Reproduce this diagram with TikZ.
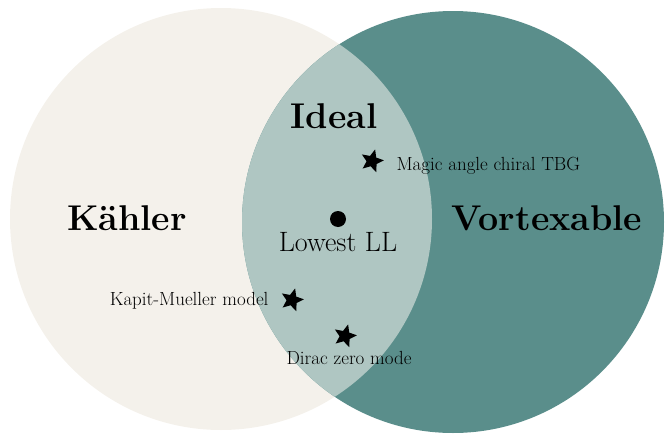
\documentclass[tikz,border=0pt]{standalone}
\usetikzlibrary{shapes.geometric}
\definecolor{beige}{HTML}{F4F1EB}
\definecolor{teal}{HTML}{5A8E8B}
\definecolor{overlap}{HTML}{AFC6C2}
\begin{document}
\begin{tikzpicture}[x=1pt,y=-1pt,
  bigtxt/.style={font=\fontsize{35.8}{38}\selectfont\bfseries},
  midtxt/.style={font=\fontsize{28}{31}\selectfont},
  smalltxt/.style={font=\fontsize{19}{22}\selectfont},
  starmark/.style={star, star points=5, star point ratio=2.2, fill=black, inner sep=0pt, minimum size=24pt}]
\useasboundingbox (0,0) rectangle (670,434);
\fill[beige] (221,219) circle (211);
\fill[teal] (453,222) circle (211);
\begin{scope}
  \clip (221,219) circle (211);
  \fill[overlap] (453,222) circle (211);
\end{scope}
\node[bigtxt] (kahler) at (127,218) {Kähler};
\node[bigtxt] (ideal) at (334,116) {Ideal};
\node[bigtxt] (vort) at (547,218) {Vortexable};
\fill (338,219) circle (8);
\node[midtxt] (lll) at (338,242) {Lowest LL};
\node[starmark, rotate=-15] (s1) at (372,161) {};
\node[smalltxt, anchor=west] (magic) at (393,166) {Magic angle chiral TBG};
\node[starmark, rotate=-15] (s2) at (292,300) {};
\node[smalltxt, anchor=east] (kapit) at (272,301) {Kapit-Mueller model};
\node[starmark, rotate=-15] (s3) at (345,336) {};
\node[smalltxt] (dirac) at (349,358) {Dirac zero mode};
\end{tikzpicture}
\end{document}
